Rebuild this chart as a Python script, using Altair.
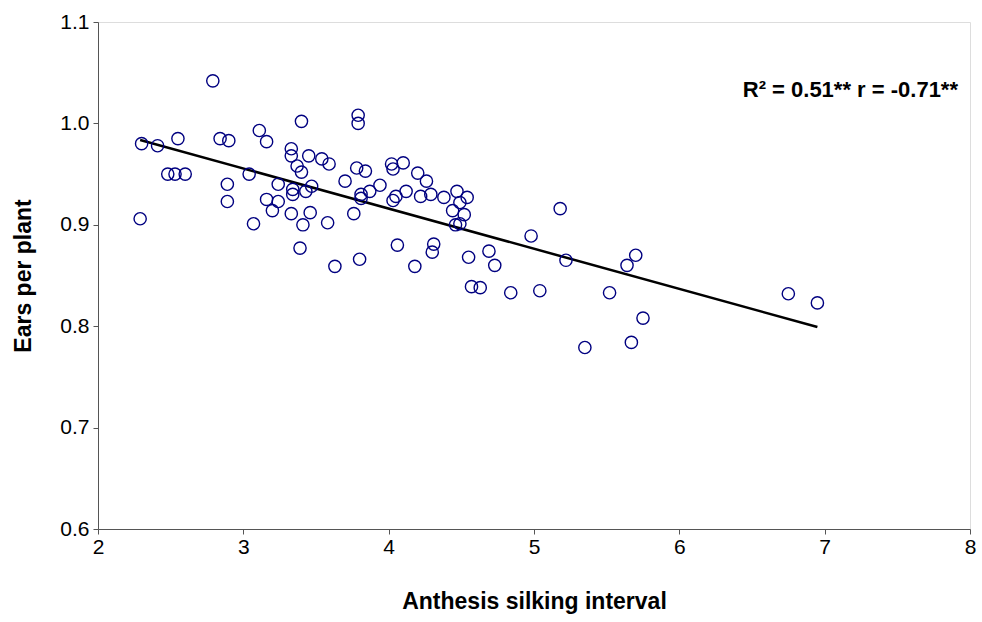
import altair as alt
import pandas as pd

asi = [2.29, 2.30, 2.41, 2.55, 2.48, 2.53, 2.60, 2.79, 2.84, 2.90,
       2.89, 2.89, 3.04, 3.07, 3.11, 3.16, 3.40, 3.33, 3.33, 3.45,
       3.54, 3.59, 3.37, 3.40, 3.24, 3.34, 3.34, 3.43, 3.47, 3.16,
       3.24, 3.20, 3.33, 3.46, 3.41, 3.58, 3.76, 3.39, 3.63, 3.80,
       3.79, 3.79, 3.78, 3.84, 3.70, 3.81, 3.81, 3.87, 3.94, 4.02,
       4.03, 4.10, 4.20, 4.26, 4.03, 4.05, 4.12, 4.22, 4.29, 4.38,
       4.47, 4.49, 4.54, 4.44, 4.52, 4.46, 4.49, 4.06, 4.31, 4.30,
       4.18, 4.55, 4.57, 4.63, 4.69, 4.73, 4.84, 5.04, 4.98, 5.18,
       5.22, 5.70, 5.64, 5.75, 5.67, 5.35, 5.52, 6.75, 6.95]
epp = [0.906, 0.980, 0.978, 0.985, 0.950, 0.950, 0.950, 1.042, 0.985, 0.983,
       0.940, 0.923, 0.950, 0.901, 0.993, 0.982, 1.002, 0.975, 0.968, 0.968,
       0.965, 0.960, 0.958, 0.952, 0.940, 0.935, 0.930, 0.933, 0.938, 0.925,
       0.923, 0.914, 0.911, 0.912, 0.900, 0.902, 0.911, 0.877, 0.859, 0.866,
       1.008, 1.000, 0.956, 0.953, 0.943, 0.930, 0.926, 0.933, 0.939, 0.960,
       0.955, 0.961, 0.951, 0.943, 0.924, 0.928, 0.933, 0.928, 0.930, 0.927,
       0.933, 0.922, 0.927, 0.914, 0.910, 0.900, 0.901, 0.880, 0.881, 0.873,
       0.859, 0.868, 0.839, 0.838, 0.874, 0.860, 0.833, 0.835, 0.889, 0.916,
       0.865, 0.870, 0.860, 0.808, 0.784, 0.779, 0.833, 0.832, 0.823]

x_ticks = [2, 3, 4, 5, 6, 7, 8]
y_ticks = [0.6, 0.7, 0.8, 0.9, 1.0, 1.1]
annotation = "R² = 0.51** r = -0.71**"

df = pd.DataFrame({"asi": asi, "epp": epp})

FONT = "Liberation Sans"
AXIS_COLOR = "#555555"

xs = alt.X("asi:Q", scale=alt.Scale(domain=[2, 8], nice=False, zero=False),
           axis=alt.Axis(values=x_ticks, title="Anthesis silking interval", grid=False,
                         format="d", labelFontSize=21, labelFont=FONT, labelColor="black",
                         titleFont=FONT, titleFontSize=23, titleFontWeight="bold",
                         titleColor="black", titlePadding=33, labelPadding=2,
                         domainColor=AXIS_COLOR, tickColor=AXIS_COLOR, tickSize=5,
                         labelFlush=False))
ys = alt.Y("epp:Q", scale=alt.Scale(domain=[0.6, 1.1], nice=False, zero=False),
           axis=alt.Axis(values=y_ticks, title="Ears per plant", grid=False,
                         format=".1f", labelFontSize=21, labelFont=FONT, labelColor="black",
                         titleFont=FONT, titleFontSize=23, titleFontWeight="bold",
                         titleColor="black", titlePadding=24, labelPadding=4,
                         domainColor=AXIS_COLOR, tickColor=AXIS_COLOR, tickSize=5,
                         labelFlush=False))

base = alt.Chart(df)

points = base.mark_point(shape="circle", filled=False, color="#000080",
                         size=150, strokeWidth=1.4, opacity=1).encode(x=xs, y=ys)

line = base.transform_regression("asi", "epp").mark_line(
    color="black", strokeWidth=2.5).encode(x="asi:Q", y="epp:Q")

label = alt.Chart(pd.DataFrame({"t": [annotation]})).mark_text(
    font=FONT, fontSize=22, fontWeight="bold", align="right", baseline="middle",
    color="black").encode(x=alt.value(860), y=alt.value(68), text="t:N")

chart = alt.layer(line, points, label).properties(
    width=872, height=507,
    autosize=alt.AutoSizeParams(type="none"),
    padding={"left": 98, "top": 22, "right": 12, "bottom": 93},
).configure_view(stroke=None).configure(background="white")

chart.save("out.html", embed_options={"renderer": "svg", "actions": False})
